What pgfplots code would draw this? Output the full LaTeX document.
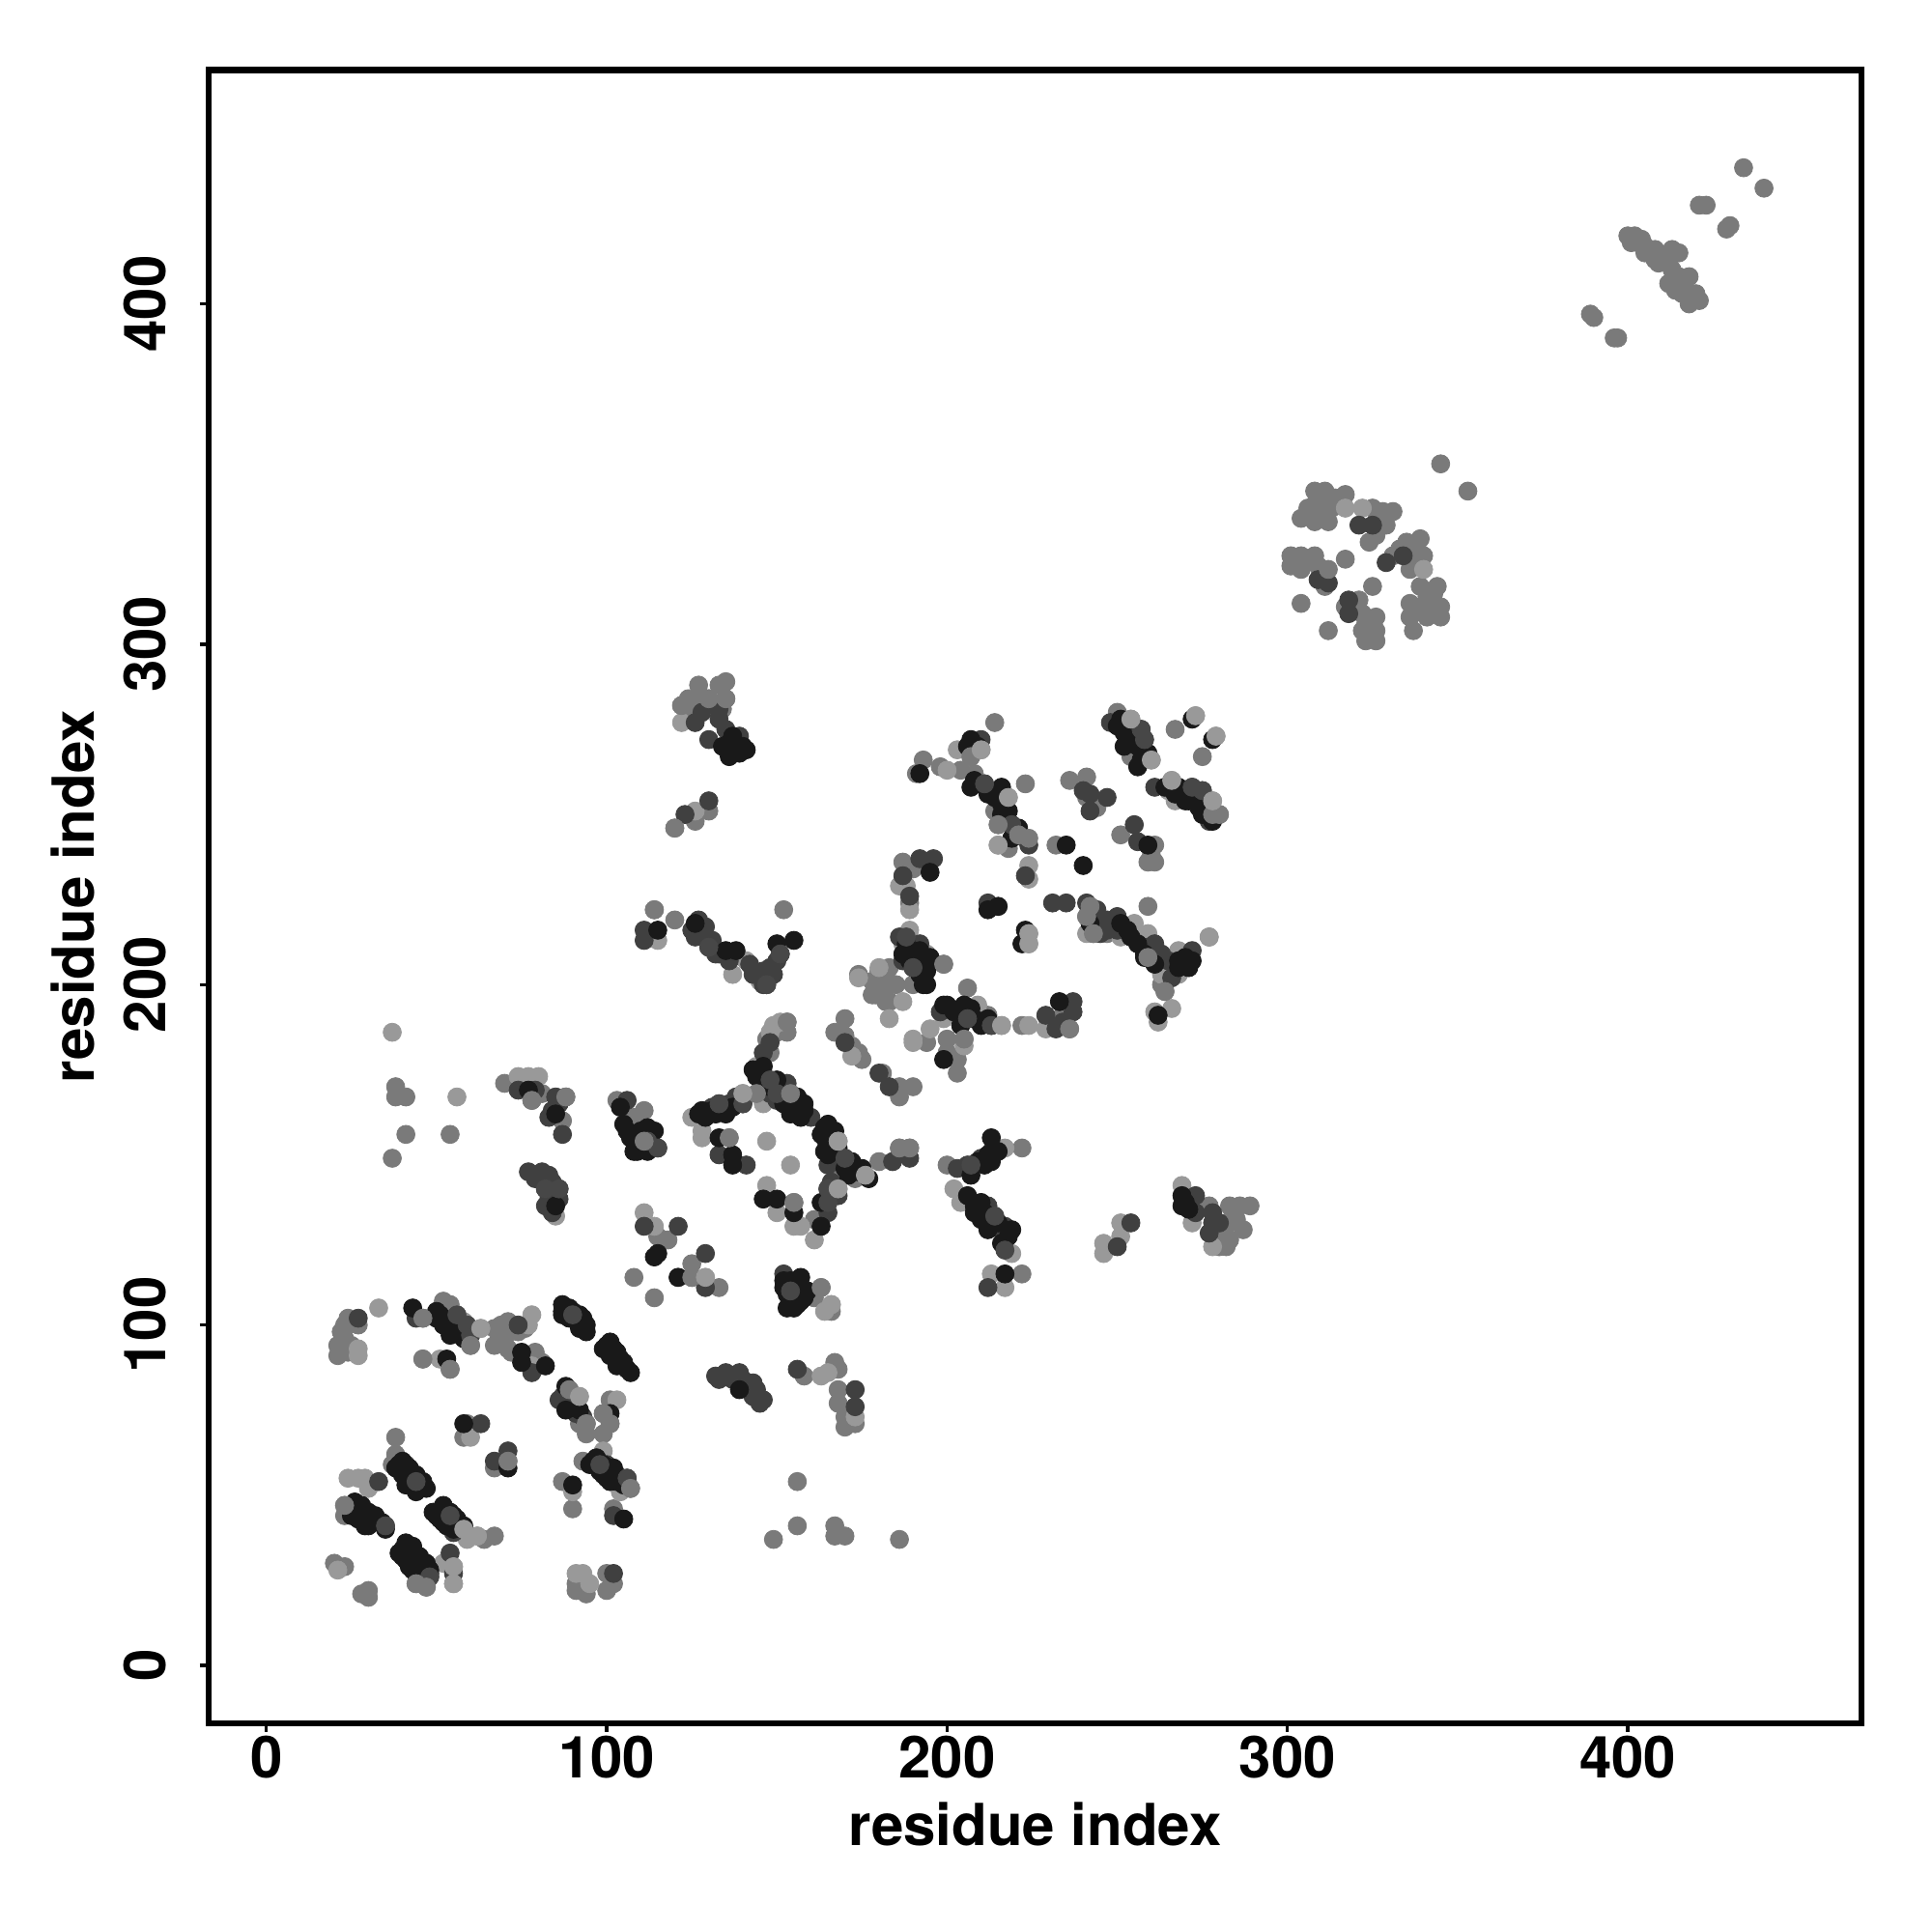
\documentclass[border=0pt]{standalone}
\usepackage{pgfplots}
\usepackage{fontspec}
\setmainfont{TeX Gyre Heros}
\pgfplotsset{compat=1.18}
\begin{document}
\begin{tikzpicture}[x=1pt,y=1pt]
\useasboundingbox (0,0) rectangle (1000,1000);
\begin{axis}[
  at={(108pt,108pt)},anchor=south west,
  scale only axis,width=855.5pt,height=855.8pt,
  xmin=-16.94,xmax=468.65,ymin=-17.03,ymax=468.75,
  axis line style={line width=3.2pt,black},
  xtick={0,100,200,300,400},ytick={0,100,200,300,400},
  tick align=outside,tick pos=left,
  major tick length=4.5pt,
  every tick/.style={line width=1.7pt,black},
  /pgf/number format/assume math mode=true,
  tick label style={font=\fontsize{30}{30}\selectfont\bfseries},
  label style={font=\fontsize{30}{30}\selectfont\bfseries},
  xticklabel style={anchor=north,yshift=1.5pt},
  yticklabel style={rotate=90,anchor=south,yshift=14pt},
  xlabel={residue index},ylabel={residue index},
  xlabel style={at={(axis description cs:0.5,0)},anchor=center,yshift=-52.2pt},
  ylabel style={at={(axis description cs:0,0.5)},anchor=center,rotate=0,yshift=70.5pt},
]
% lightest
\addplot[only marks,mark=*,mark size=4.7pt,color=black!52] coordinates {
(24,102)(23,100)(24,100)(27,100)(21,94)(21,91)(23,96)(24,92)(46,102)(46,90)(54,87)(52,107)(54,106)(60,94)
(67,99)(71,101)(76,99)(71,98)(67,94)(71,93)(72,92)(79,92)(81,89)(89,81)(94,71)(92,71)(94,68)(101,78)(99,74)(101,71)(99,68)
(93,60)(107,52)(87,54)(90,46)(102,46)(100,27)(100,22)(102,24)(91,22)(94,21)(91,24)(38,67)(38,62)(37,59)
(23,47)(23,44)(67,38)(64,37)(44,24)(47,23)(20,30)(23,29)(28,21)(30,22)(30,20)(108,114)(114,108)(125,114)
(59,71)(58,67)(71,60)(67,58)
(103,166)(108,161)(111,163)(111,154)(136,155)(153,189)(153,186)(148,180)(144,168)(154,168)(168,146)(180,148)(186,152)(189,152)(173,143)
(155,136)(161,131)(115,126)(118,125)(125,118)(125,114)(133,111)(163,111)(161,108)(166,104)
(170,190)(167,186)(170,185)(174,180)(181,174)(186,170)(190,170)(186,167)
(183,200)(183,195)(183,205)(179,197)(174,203)
(214,277)(207,267)(193,266)(198,264)(191,262)(204,263)(208,262)(214,251)(215,247)(221,244)(223,243)(218,240)(223,259)
(236,260)(241,261)(241,255)(244,252)(232,241)(251,244)(261,241)(260,238)(259,236)(261,236)
(250,280)(254,267)(257,266)(267,275)(275,267)(278,250)(280,250)
(242,223)(243,221)(241,220)(243,215)(247,215)(259,223)(259,208)(266,206)(277,214)(264,198)(263,200)
(187,236)(190,234)(189,224)(190,212)(199,206)(190,200)(206,199)(212,191)(222,188)(233,190)(236,187)
(194,183)(200,184)(205,184)(200,180)(203,174)(203,178)(183,195)(178,201)(180,204)(182,195)
(122,282)(127,288)(135,289)(130,284)(135,284)(120,246)(126,248)(130,251)(114,222)(120,219)(152,222)
(345,353)(353,345)(308,345)(311,345)(308,341)(311,341)(314,343)(317,344)(304,337)(308,336)(312,336)
(325,340)(328,339)(331,339)(329,335)(326,332)(324,330)(339,331)(335,330)(331,326)(337,326)(340,326)(336,322)
(344,317)(339,317)(341,314)(336,312)(339,311)(345,311)(336,308)(341,308)(345,308)(337,304)
(301,326)(301,323)(304,326)(304,322)(308,326)(309,323)(317,325)(311,317)(304,312)(312,304)
(325,317)(317,311)(321,313)(322,309)(326,308)(322,304)(326,304)(323,301)(326,301)
(434,440)(440,434)(423,429)(421,429)(430,423)(429,422)(390,396)(389,397)(397,390)(396,390)
(400,420)(402,420)(403,418)(405,417)(408,416)(410,414)(412,412)(415,415)(413,416)(408,413)(404,419)
(412,406)(415,408)(416,405)(418,408)(417,404)(419,402)(421,401)(418,400)(416,403)(414,407)
(149,37)(156,41)(156,54)(167,41)(167,38)(170,38)(186,37)
(158,85)(167,89)(168,87)(168,81)(168,77)(170,73)(170,70)(173,71)
(70,171)(78,166)(81,168)(88,167)(87,160)(38,170)(38,167)(41,167)(41,156)(37,149)(54,156)
(200,147)(222,152)(222,115)(282,123)(283,135)(289,135)(287,128)(282,129)(284,133)(281,126)
(310,343)(313,340)(306,340)(309,338)(327,336)(333,328)(338,329)(342,311)(343,315)(341,310)(306,325)(324,303)(323,306)
(22,93)(22,98)(25,94)(69,100)(74,98)(70,96)(182,203)(178,197)(185,200)(181,199)
(409,412)(405,415)(401,418)(413,410)(420,403)(414,404)
(124,284)(126,280)(128,283)(132,282)(133,288)(127,285)(134,281)(277,135)(286,135)(285,131)(283,125)(280,123)(279,128)
(73,171)(76,170)(147,184)(150,186)(172,182)(175,178)
};
% mid grey
\addplot[only marks,mark=*,mark size=4.7pt,color=black!40] coordinates {
(33,105)(27,93)(27,91)(51,90)(56,103)(58,101)(59,99)(63,99)(78,103)(77,100)(78,88)(88,105)(92,79)(103,78)
(99,63)(107,52)(104,51)(90,51)(95,24)(91,27)(93,27)(24,55)(27,55)(29,55)(30,52)(58,40)(62,38)(59,37)
(52,30)(55,29)(55,24)(21,28)(60,67)
(125,161)(140,168)(128,157)(128,155)(147,154)(154,147)(149,188)(151,189)(148,186)(144,176)(149,168)(146,165)
(176,144)(147,141)(150,133)(155,129)(157,129)(161,125)(168,140)(111,133)(114,129)(129,114)(166,106)(164,104)(172,179)
(183,190)(187,195)(190,184)(195,187)(180,205)
(203,269)(210,269)(200,263)(218,255)(215,241)(224,235)(224,231)(254,278)(260,266)(273,279)(279,273)
(266,260)(265,257)(267,254)(278,254)(215,223)(224,215)(224,212)(241,215)(255,218)(251,214)(259,215)
(263,207)(263,203)(268,210)(268,203)(277,214)(261,192)(266,193)(262,189)(186,229)(188,229)(189,222)(189,216)(194,209)(187,212)
(209,194)(199,190)(216,188)(224,188)(229,187)(190,183)(174,202)(205,182)
(122,277)(126,251)(141,207)(137,203)(145,201)(115,213)
(317,340)(322,340)(340,322)
(163,85)(165,86)(173,73)
(74,173)(77,173)(80,173)(85,132)(37,186)(56,167)
(202,140)(217,152)(204,136)(219,121)(213,115)(217,111)(246,121)(246,124)(251,126)(251,130)(269,141)(272,130)(278,123)
};
% dark grey
\addplot[only marks,mark=*,mark size=4.7pt,color=black!75] coordinates {
(27,102)(44,102)(60,97)(74,100)(78,86)(86,78)(100,59)(103,56)(106,55)(102,44)(102,27)(33,54)(35,41)(55,39)(48,26)(54,33)(55,27)(41,59)
(71,63)(67,60)(63,71)
(106,166)(115,152)(133,165)(136,165)(140,165)(133,150)(141,147)(148,183)(146,180)(148,172)(148,168)(150,166)(170,149)(165,147)(184,148)(189,149)
(165,136)(165,133)(165,140)(111,129)(121,129)(129,121)(121,114)(129,111)(152,115)(170,183)(180,174)(183,170)
(210,272)(211,259)(219,247)(224,241)(223,232)(240,257)(242,256)(247,255)(242,251)(255,247)(256,242)(248,277)(257,275)(258,272)(272,258)(275,257)(277,248)
(212,224)(231,224)(235,224)(241,224)(247,219)(259,211)(272,210)(196,237)(192,237)(187,232)(190,205)
(206,190)(213,188)(237,195)(237,192)(232,187)
(126,277)(133,278)(130,272)(138,270)(123,250)(130,254)(111,216)(111,213)(129,217)(126,214)(130,211)(143,203)(147,200)(149,203)(151,209)
(321,335)(325,335)(329,324)(334,326)(309,319)(312,318)(318,313)(318,309)
(132,85)(135,86)(139,86)(144,81)(145,77)(156,87)(173,81)(173,76)
(74,169)(85,167)(87,156)(77,145)(81,145)(82,140)(86,140)(83,137)
(203,146)(206,147)(210,149)(213,151)(214,132)(217,129)(212,111)(250,123)(254,130)(273,138)(273,133)(278,133)(277,127)
(143,83)(141,82)(136,85)(146,78)(142,206)(146,204)(128,215)(132,209)(244,216)(250,220)(247,216)(261,212)(265,207)(212,135)(216,128)
(138,167)(131,164)(168,148)(172,147)(153,171)(151,169)(160,161)(198,192)(204,193)(229,191)(234,189)(261,258)(270,256)(168,138)(166,142)
(87,79)(89,77)(91,74)(90,77)(93,73)(244,222)(247,218)(250,216)(245,215)(133,84)(137,84)(140,84)(143,79)
(125,216)(127,219)(131,213)(133,209)(136,207)(148,205)(146,200)(150,207)(128,280)(133,281)(135,275)(139,273)
(79,143)(83,144)(84,142)(86,137)(82,135)(84,133)(278,130)(280,130)(79,169)(84,163)(86,165)(83,161)
(189,226)(187,207)(192,212)(186,214)(263,209)(266,202)
};
% near black
\addplot[only marks,mark=*,mark size=4.7pt,color=black!90] coordinates {
(43,105)(50,104)(52,102)(54,99)(57,97)(53,90)(75,92)(75,89)(82,88)(87,106)(87,103)(90,104)(93,101)(93,99)(91,102)
(100,94)(102,93)(104,90)(106,87)(101,91)(88,82)(88,75)(92,75)(101,74)(96,60)(98,57)(101,54)(90,53)(105,43)
(39,59)(41,57)(44,55)(46,53)(40,56)(43,53)(26,47)(28,44)(32,43)(27,44)(30,41)
(51,45)(52,46)(55,44)(57,41)(52,42)(41,35)(43,33)(40,32)(45,29)(42,29)(46,27)(58,71)(71,58)(121,114)(114,120)
(104,164)(106,157)(110,157)(114,157)(110,152)(108,154)(128,163)(132,162)(133,155)(137,150)(137,147)(145,174)(144,173)(155,166)(157,164)(155,163)
(164,158)(166,156)(164,155)(165,150)(173,146)(146,137)(150,137)(155,133)(163,129)(163,136)(115,121)(152,111)(157,114)(157,111)(154,110)(157,107)
(193,200)(194,204)(199,194)
(207,272)(192,262)(207,258)(214,255)(218,251)(219,243)(235,241)(240,235)(259,241)(250,276)(253,272)(257,266)(272,278)(278,272)
(267,256)(271,254)(275,250)(215,223)(212,222)(223,216)(222,212)(242,218)(251,218)(254,214)(258,208)(268,207)(272,207)(262,191)
(195,233)(188,212)(190,208)(194,205)(194,200)(200,194)(205,194)(208,190)(233,195)(199,178)
(137,273)(134,270)(141,269)(115,216)(126,218)(135,210)(138,210)(150,212)(155,213)
(139,81)(85,135)(85,162)(77,169)(213,155)(210,136)(210,131)(218,126)(217,115)(269,138)(269,135)
(51,103)(53,101)(55,98)(56,100)(58,96)(88,104)(89,102)(92,100)(94,100)(92,103)(101,93)(103,91)(105,88)(103,89)(98,59)(99,56)(100,55)
(40,58)(42,56)(45,54)(42,54)(44,52)(41,55)(26,45)(29,45)(31,42)(29,43)(33,42)(27,46)(31,44)
(52,44)(54,43)(56,42)(53,41)(55,40)(42,34)(44,32)(41,31)(46,28)(44,30)(43,28)(48,27)
(110,155)(112,156)(109,151)(112,151)(146,173)(147,171)(156,165)(154,165)(158,163)(165,157)(167,154)(166,153)(165,152)(174,145)
(152,113)(153,109)(155,112)(156,109)(156,106)(158,108)(214,256)(216,253)(219,247)(255,275)(256,270)(252,274)(189,210)(192,206)(192,203)
(140,270)(136,271)(213,148)(211,147)(208,135)(212,128)(270,136)(271,134)
(50,102)(52,100)(54,97)(57,99)(87,104)(89,105)(91,103)(93,102)(94,98)(92,99)(99,93)(101,95)(103,92)(105,89)(107,86)(103,88)
(95,59)(97,61)(99,59)(101,56)(103,54)(105,53)(102,58)
(38,58)(40,60)(42,58)(44,56)(46,54)(47,52)(44,51)(41,53)
(25,46)(26,48)(28,47)(30,45)(32,44)(34,42)(35,40)(29,41)(27,43)(25,44)
(50,44)(52,47)(54,45)(56,43)(58,41)(54,41)(51,43)(49,45)
(39,33)(41,36)(43,35)(45,32)(47,30)(48,28)(44,27)(42,31)(40,34)
(127,162)(129,161)(131,163)(134,163)(137,164)(135,162)(143,175)(146,176)(148,170)(150,172)
(152,165)(156,167)(158,165)(154,162)(157,161)(163,156)(165,159)(167,157)(168,152)(164,151)
(170,146)(172,148)(175,146)(177,143)(171,144)(105,159)(107,155)(112,158)(113,153)(108,151)
(154,113)(155,105)(159,110)(153,105)(209,148)(207,144)(212,150)(215,151)(206,138)(208,133)(211,133)(215,130)(216,124)(219,128)
(216,258)(212,256)(217,248)(221,246)(216,250)(251,278)(255,272)(259,268)(256,264)(252,270)
(264,258)(268,258)(270,254)(274,252)(273,256)(278,248)(206,270)(209,270)(208,260)(212,257)
(187,209)(189,207)(192,210)(195,208)(202,192)(204,188)(207,193)(210,188)(212,190)
(253,216)(256,212)(258,209)(261,206)(268,205)(270,208)(271,205)(136,267)(139,268)
};
% dark grey over the darkest
\addplot[only marks,mark=*,mark size=4.7pt,color=black!72] coordinates {
(56,103)(59,100)(60,97)(90,103)(98,59)(106,55)(35,41)(48,26)(44,54)(54,44)
(133,165)(140,165)(148,172)(150,168)(170,149)(112,154)(115,152)(165,136)(165,140)(154,110)(211,259)(219,247)(257,275)(258,272)
(272,258)(275,257)(190,205)(188,214)(206,190)(213,188)(207,147)(214,132)(217,122)(130,211)(151,209)(147,200)(82,140)(86,140)
};
% grey points that lie over the dark ones
\addplot[only marks,mark=*,mark size=4.7pt,color=black!52] coordinates {
(107,52)(89,81)(94,71)(125,114)(60,94)(54,87)(46,102)(71,60)(136,155)(144,168)(154,168)(168,154)(155,136)(189,152)(186,152)(153,189)
(207,267)(224,243)(278,250)(280,250)(312,322)(259,208)(199,206)(236,187)(205,184)(130,284)(135,284)(122,282)
(46,90)(23,47)(47,23)(44,24)(101,71)(99,74)(163,111)(111,154)(215,247)(221,244)(264,198)(241,220)(243,215)(242,223)
(78,166)(88,167)(120,246)(114,222)
};
\addplot[only marks,mark=*,mark size=4.7pt,color=black!40] coordinates {
(63,99)(58,40)(62,38)(92,79)(168,154)(140,168)(176,144)(168,140)(218,255)(215,241)(254,278)(279,273)(273,279)(278,254)(224,215)(224,212)(216,188)(166,106)(210,269)(260,266)(266,260)
(55,29)(55,24)(129,114)
};
\end{axis}
\end{tikzpicture}
\end{document}
